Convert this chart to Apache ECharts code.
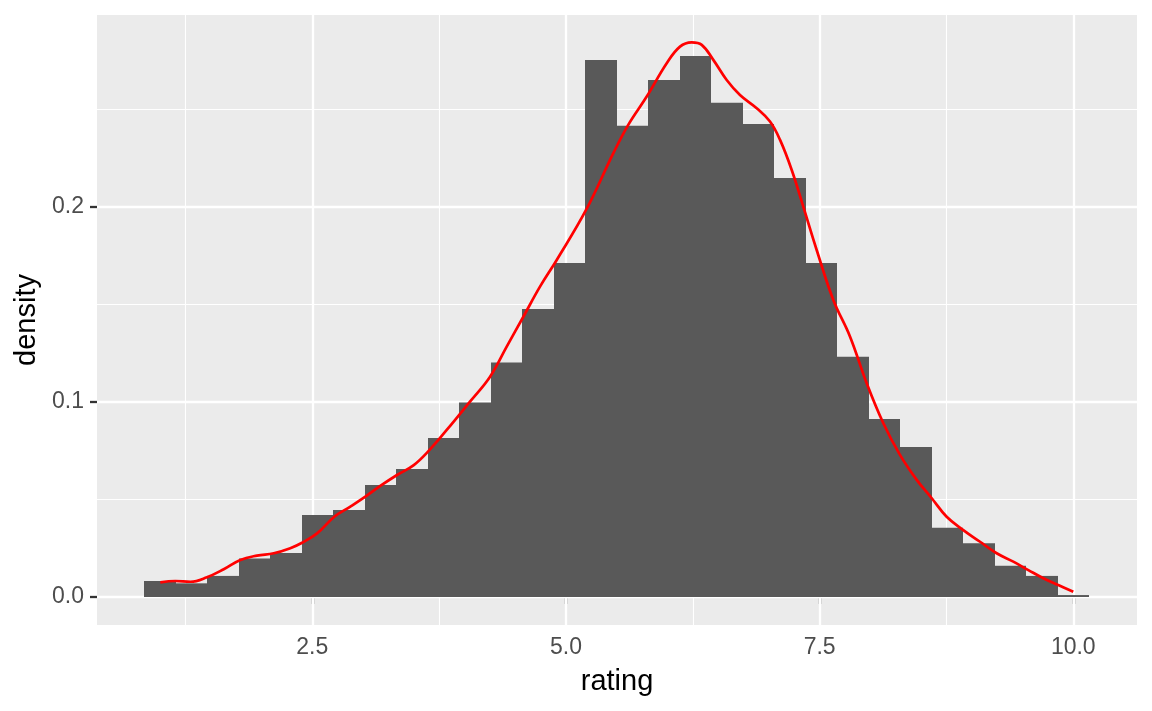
<!DOCTYPE html>
<html>
<head>
<meta charset="utf-8">
<script src="https://cdn.jsdelivr.net/npm/echarts@6/dist/echarts.min.js"></script>
<style>
html,body{margin:0;padding:0;background:#fff;}
#chart{width:1152px;height:711px;}
</style>
</head>
<body>
<div id="chart"></div>
<script>
// Histogram bins (centers) and densities
const binCenters = [1.000,1.310,1.621,1.931,2.241,2.552,2.862,3.172,3.483,3.793,
  4.103,4.414,4.724,5.034,5.345,5.655,5.966,6.276,6.586,6.897,
  7.207,7.517,7.828,8.138,8.448,8.759,9.069,9.379,9.690,10.000];
const binWidth = 0.3103;
const binDensity = [0.0082,0.0070,0.0108,0.0197,0.0225,0.0420,0.0446,0.0574,0.0656,0.0815,
  0.0996,0.1201,0.1476,0.1711,0.2752,0.2414,0.2649,0.2772,0.2533,0.2424,
  0.2147,0.1711,0.1231,0.0912,0.0769,0.0355,0.0275,0.0160,0.0108,0.0010];

// Kernel density curve
const curveX = [1.002,1.150,1.298,1.462,1.627,1.791,1.955,2.120,2.283,2.399,2.547,2.717,2.875,3.023,3.170,3.335,3.500,3.640,
  3.825,4.054,4.252,4.416,4.580,4.744,4.909,5.198,5.467,5.614,5.796,5.993,6.124,6.239,6.338,6.452,6.584,6.715,6.880,7.011,
  7.110,7.225,7.339,7.471,7.635,7.800,7.964,8.128,8.292,8.457,8.605,8.752,8.916,9.081,9.245,9.409,9.557,9.705,9.852,10.000];
const curveY = [0.0075,0.0082,0.0078,0.0101,0.0142,0.0190,0.0212,0.0224,0.0250,0.0278,0.0326,0.0411,0.0463,0.0514,0.0569,0.0625,0.0676,0.0745,
  0.0856,0.1001,0.1129,0.1283,0.1436,0.1590,0.1727,0.1983,0.2274,0.2419,0.2564,0.2735,0.2820,0.2842,0.2829,0.2752,0.2649,0.2572,0.2504,0.2436,
  0.2342,0.2188,0.2000,0.1778,0.1522,0.1334,0.1095,0.0890,0.0728,0.0600,0.0506,0.0411,0.0343,0.0283,0.0224,0.0181,0.0138,0.0096,0.0061,0.0027];

// Axis ticks and grid
const xTicks = [2.5, 5.0, 7.5, 10.0];
const xMinor = [1.25, 3.75, 6.25, 8.75];
const yTicks = [0.0, 0.1, 0.2];
const yMinor = [0.05, 0.15, 0.25];

const xRange = [0.378, 10.628];
const yRange = [-0.01435, 0.2982];

const chart = echarts.init(document.getElementById('chart'), null, {renderer: 'canvas'});

const gridLines = [];
xMinor.forEach(v => gridLines.push({xAxis: v, lineStyle: {width: 1.1}}));
yMinor.forEach(v => gridLines.push({yAxis: v, lineStyle: {width: 1.1}}));
xTicks.forEach(v => gridLines.push({xAxis: v, lineStyle: {width: 2.3}}));
yTicks.forEach(v => gridLines.push({yAxis: v, lineStyle: {width: 2.3}}));

const font = 'Liberation Sans, Arial, Helvetica, sans-serif';

chart.setOption({
  animation: false,
  backgroundColor: '#ffffff',
  grid: {left: 97, right: 15, top: 15, bottom: 86, show: true, backgroundColor: '#EBEBEB', borderWidth: 0},
  xAxis: {
    type: 'value', min: xRange[0], max: xRange[1],
    name: 'rating', nameLocation: 'middle', nameGap: 42,
    nameTextStyle: {color: '#000', fontSize: 29, fontFamily: font},
    axisLine: {show: false},
    splitLine: {show: false},
    axisTick: {show: true, customValues: xTicks, length: 7, lineStyle: {color: '#333333', width: 2.3}},
    axisLabel: {customValues: xTicks, color: '#4D4D4D', fontSize: 23, fontFamily: font, margin: 11,
      formatter: v => Number(v).toFixed(1)}
  },
  yAxis: {
    type: 'value', min: yRange[0], max: yRange[1],
    name: 'density', nameLocation: 'middle', nameGap: 56, nameRotate: 90,
    nameTextStyle: {color: '#000', fontSize: 29, fontFamily: font},
    axisLine: {show: false},
    splitLine: {show: false},
    axisTick: {show: true, customValues: yTicks, length: 7, lineStyle: {color: '#333333', width: 2.3}},
    axisLabel: {customValues: yTicks, color: '#4D4D4D', fontSize: 23, fontFamily: font, margin: 13,
      formatter: v => Number(v).toFixed(1)}
  },
  series: [
    {
      type: 'custom',
      z: 2,
      data: binCenters.map((c, i) => [c, binDensity[i]]),
      renderItem: function (params, api) {
        const c = api.value(0), h = api.value(1);
        const p0 = api.coord([c - binWidth / 2, 0]);
        const p1 = api.coord([c + binWidth / 2, h]);
        const x0 = Math.round(p0[0]), x1 = Math.round(p1[0]);
        const y0 = p0[1], y1 = p1[1];
        return {
          type: 'rect',
          shape: {x: x0, y: y1, width: x1 - x0, height: y0 - y1},
          style: {fill: '#595959', stroke: null}
        };
      },
      markLine: {
        z: 1,
        silent: true,
        symbol: ['none', 'none'],
        label: {show: false},
        lineStyle: {color: '#FFFFFF', type: 'solid'},
        emphasis: {disabled: true},
        animation: false,
        data: gridLines
      }
    },
    {
      type: 'line',
      z: 3,
      data: curveX.map((x, i) => [x, curveY[i]]),
      smooth: 0.4,
      showSymbol: false,
      symbol: 'none',
      lineStyle: {color: '#FF0000', width: 2.7},
      silent: true
    }
  ]
});
</script>
</body>
</html>
